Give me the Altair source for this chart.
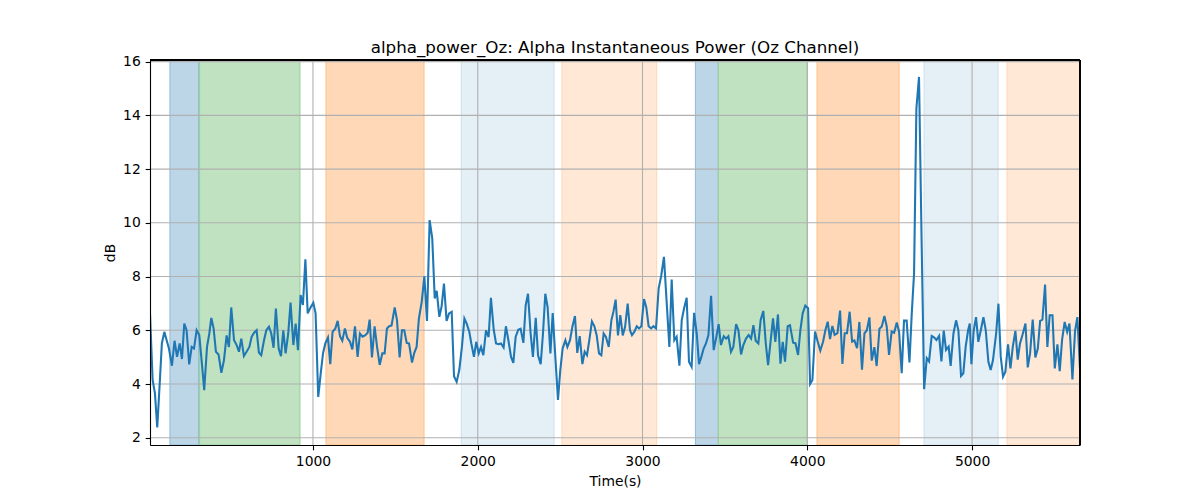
import altair as alt
import pandas as pd

# ---- line data (time in s, alpha power in dB) ----
times = [
    11, 27, 41, 55, 71, 83, 98, 112, 126, 144, 160, 175, 191, 205, 219, 233, 249, 264, 278, 294,
    310, 326, 340, 357, 371, 383, 397, 411, 427, 444, 460, 476, 490, 504, 521, 537, 551, 565, 581, 597,
    614, 628, 644, 658, 672, 686, 703, 717, 733, 747, 761, 775, 792, 806, 820, 834, 850, 864, 881, 895,
    909, 925, 939, 954, 968, 982,
    1002, 1016, 1032, 1047, 1061, 1075, 1091, 1105, 1119, 1136, 1150, 1164, 1178, 1194, 1208, 1225, 1239, 1255, 1271, 1285,
    1301, 1318, 1332, 1344, 1358, 1374, 1389, 1405, 1421, 1435, 1449, 1463, 1477, 1496, 1510, 1526, 1540, 1554, 1569, 1583,
    1601, 1615, 1629, 1643, 1660, 1676, 1692, 1708, 1724, 1739, 1751, 1767, 1781, 1795, 1811, 1826, 1842, 1856, 1872, 1888,
    1904, 1919, 1933, 1949,
    1961, 1977, 1991, 2006, 2020, 2034, 2050, 2066, 2080, 2097, 2111, 2127, 2141, 2157, 2171, 2186, 2202, 2216, 2230, 2246,
    2260, 2277, 2291, 2305, 2321, 2335, 2352, 2366, 2382, 2396, 2410, 2424, 2441, 2455, 2469, 2487, 2501, 2515, 2532, 2544,
    2560, 2574, 2590, 2604, 2619, 2635, 2649, 2663, 2677, 2693, 2708, 2722, 2736, 2750, 2764, 2778, 2795, 2811, 2823, 2837,
    2851, 2865, 2880, 2894, 2910, 2924,
    2936, 2950, 2965, 2979, 2993, 3009, 3023, 3037, 3052, 3066, 3082, 3098, 3114, 3130, 3147, 3163, 3177, 3193, 3207, 3224,
    3238, 3252, 3268, 3282, 3298, 3313, 3329, 3343, 3357, 3371, 3385, 3400, 3416, 3432, 3446, 3462, 3476, 3493, 3507, 3521,
    3537, 3551, 3568, 3582, 3598, 3612, 3628, 3644, 3659, 3673, 3687, 3703, 3717, 3733, 3748, 3762, 3778, 3792, 3806, 3822,
    3837, 3851, 3865, 3881, 3895,
    3914, 3928, 3944, 3958, 3972, 3988, 4005, 4017, 4031, 4047, 4063, 4079, 4096, 4110, 4124, 4138, 4152, 4166, 4183, 4199,
    4213, 4227, 4241, 4257, 4272, 4286, 4302, 4316, 4332, 4347, 4361, 4377, 4391, 4407, 4421, 4438, 4452, 4468, 4482, 4496,
    4512, 4527, 4543, 4557, 4573, 4587, 4603, 4620, 4634, 4648, 4662, 4678, 4693, 4709, 4725, 4739, 4755, 4769, 4784, 4800,
    4814, 4828, 4842, 4858,
    4870, 4887, 4903, 4917, 4933, 4947, 4961, 4976, 4986, 4996, 5010, 5024, 5038, 5053, 5069, 5083, 5099, 5113, 5127, 5146,
    5160, 5174, 5188, 5202, 5218, 5233, 5247, 5263, 5277, 5291, 5307, 5324, 5338, 5352, 5368, 5384, 5399, 5413, 5427, 5443,
    5457, 5471, 5488, 5502, 5518, 5532, 5546, 5562, 5577, 5591, 5609, 5625, 5639, 5655,
]

values = [
    6.63, 4.14, 3.65, 2.38, 4.14, 5.51, 5.94, 5.63, 5.32, 4.68, 5.61, 5.01, 5.51, 4.93, 6.25, 6.0, 4.73, 5.38, 5.32, 6.0,
    5.82, 4.76, 3.77, 5.38, 5.88, 6.46, 6.07, 5.2, 5.1, 4.42, 4.89, 5.81, 5.38, 6.85, 5.63, 5.45, 5.2, 5.69, 5.04, 5.2,
    5.38, 5.76, 5.92, 6.0, 5.17, 5.07, 5.63, 6.0, 6.13, 5.88, 5.35, 6.81, 5.32, 5.04, 6.0, 5.14, 5.88, 7.03, 5.45, 6.25,
    5.26, 7.31, 6.94, 8.64, 6.63, 6.81,
    7.02, 6.63, 3.52, 4.39, 5.14, 5.51, 5.73, 4.74, 5.94, 6.07, 6.35, 5.78, 5.61, 6.07, 5.72, 5.57, 5.29, 6.15, 5.01, 5.88,
    5.76, 5.82, 5.91, 6.40, 4.99, 6.15, 5.38, 4.71, 5.14, 5.14, 6.07, 6.15, 6.18, 6.85, 6.38, 4.99, 6.0, 6.0, 5.53, 5.51,
    4.80, 5.16, 5.38, 6.44, 7.06, 8.01, 6.35, 10.1, 9.42, 7.18, 7.47, 6.50, 6.90, 7.74, 6.35, 6.63, 6.69, 4.29, 4.08, 4.52,
    5.38, 6.44, 6.25, 5.94,
    5.51, 5.01, 5.57, 5.14, 5.38, 5.07, 6.0, 5.75, 7.21, 6.02, 5.51, 5.48, 5.51, 5.36, 6.15, 5.63, 5.01, 4.79, 5.75, 6.02,
    6.06, 5.53, 6.93, 7.36, 5.88, 5.01, 6.46, 5.07, 4.74, 5.88, 7.36, 6.86, 5.14, 6.64, 5.2, 3.41, 4.52, 5.32, 5.63, 5.38,
    5.63, 6.12, 6.53, 5.16, 5.78, 4.74, 5.2, 5.07, 5.63, 6.33, 6.15, 5.81, 5.14, 5.07, 5.88, 5.75, 5.38, 6.37, 6.68, 7.14,
    5.81, 6.56, 5.81, 6.12, 6.99, 6.0,
    5.82, 5.94, 6.15, 6.07, 6.15, 7.16, 6.85, 6.15, 6.07, 6.15, 6.07, 7.56, 8.05, 8.73, 7.0, 5.38, 7.89, 5.63, 5.76, 4.68,
    6.38, 6.81, 7.21, 4.83, 4.64, 6.65, 5.88, 4.74, 5.01, 5.32, 5.51, 5.82, 7.28, 5.26, 5.69, 6.23, 5.45, 5.78, 5.69, 5.78,
    5.2, 5.38, 6.23, 6.0, 5.1, 5.45, 5.69, 5.82, 5.69, 6.19, 5.61, 5.51, 6.38, 6.72, 5.51, 4.70, 5.63, 6.44, 5.57, 6.59,
    4.76, 5.57, 4.83, 6.15, 6.19,
    5.54, 5.52, 5.08, 6.01, 6.63, 6.92, 6.82, 4.0, 4.15, 5.95, 5.58, 5.24, 5.58, 6.01, 6.32, 5.67, 6.16, 5.83, 5.89, 6.73,
    4.75, 5.89, 5.89, 6.69, 5.58, 5.62, 5.33, 6.31, 4.53, 5.89, 5.99, 6.48, 4.87, 5.37, 4.67, 6.06, 6.14, 6.53, 6.14, 5.08,
    5.95, 5.91, 6.29, 5.95, 4.40, 6.36, 6.36, 4.80, 6.63, 8.12, 14.25, 15.43, 9.6, 3.81, 4.96, 4.84, 5.79, 5.74, 5.64, 5.79,
    4.84, 5.99, 5.27, 5.39,
    4.67, 5.88, 6.37, 6.0, 4.30, 4.40, 5.38, 6.0, 6.25, 4.74, 6.0, 6.49, 5.57, 6.0, 6.49, 6.0, 4.83, 4.52, 4.89, 5.88,
    6.99, 5.01, 4.27, 4.46, 5.48, 4.58, 5.38, 5.98, 4.91, 5.51, 5.85, 6.25, 4.62, 5.14, 6.40, 4.99, 5.32, 6.35, 6.40, 7.70,
    5.38, 6.56, 6.56, 4.58, 5.48, 4.48, 5.63, 6.31, 5.94, 6.25, 4.17, 5.98, 6.49, 4.58,
]

# ---- shaded event intervals ----
band_start = [132, 312, 1079, 1900, 2511, 3321, 3460, 4059, 4709, 5212]
band_end = [306, 921, 1674, 2463, 3086, 3460, 4000, 4557, 5158, 5655]
band_kind = ["Event 1", "Event 2", "Event 3", "Event 4", "Event 5",
             "Event 1", "Event 2", "Event 3", "Event 4", "Event 5"]

kinds = ["Event 1", "Event 2", "Event 3", "Event 4", "Event 5"]

x_ticks = [1000, 2000, 3000, 4000, 5000]
y_ticks = [2, 4, 6, 8, 10, 12, 14, 16]

X_MIN, X_MAX = times[0], times[-1]
Y_MIN, Y_MAX = 1.73, 16.06


def blend(hex_color, alpha):
    h = hex_color.lstrip("#")
    rgb = [int(h[i:i + 2], 16) for i in (0, 2, 4)]
    out = [round(255 - alpha * (255 - c)) for c in rgb]
    return "#" + "".join(f"{c:02x}" for c in out)


base_colors = ["#1f77b4", "#2ca02c", "#ff7f0e", "#1f77b4", "#ff7f0e"]
alphas = [0.3, 0.3, 0.3, 0.12, 0.17]
fill_colors = [blend(c, a) for c, a in zip(base_colors, alphas)]
edge_colors = [blend(c, 1 - (1 - a) ** 2) for c, a in zip(base_colors, alphas)]

line_df = pd.DataFrame({"t": times, "v": values})
band_df = pd.DataFrame({"start": band_start, "end": band_end, "kind": band_kind})
xgrid_df = pd.DataFrame({"x": x_ticks})
ygrid_df = pd.DataFrame({"y": y_ticks})

FONT = "DejaVu Sans"
xscale = alt.Scale(domain=[X_MIN, X_MAX], nice=False, zero=False)
yscale = alt.Scale(domain=[Y_MIN, Y_MAX], nice=False, zero=False)

axis_common = dict(
    labelFont=FONT, labelFontSize=13.9, labelColor="black",
    titleFont=FONT, titleFontSize=13.9, titleColor="black", titleFontWeight="normal",
    tickColor="black", tickSize=4.86, tickWidth=1.1,
    domain=True, domainColor="black", domainWidth=1.1,
    grid=False, labelFlush=False, labelOverlap=False, labelPadding=4.86,
    titlePadding=5.5, format="d", zindex=1,
)
x_axis = alt.Axis(values=x_ticks, title="Time(s)", **axis_common)
y_axis = alt.Axis(values=y_ticks, title="dB", **axis_common)

bands = alt.Chart(band_df).mark_rect(strokeWidth=1, clip=True).encode(
    x=alt.X("start:Q", scale=xscale, axis=x_axis),
    x2="end:Q",
    color=alt.Color("kind:N", scale=alt.Scale(domain=kinds, range=fill_colors), legend=None),
    stroke=alt.Stroke("kind:N", scale=alt.Scale(domain=kinds, range=edge_colors), legend=None),
)

xgrid = alt.Chart(xgrid_df).mark_rule(color="#b0b0b0", strokeWidth=1.1).encode(
    x=alt.X("x:Q", scale=xscale, axis=x_axis)
)
ygrid = alt.Chart(ygrid_df).mark_rule(color="#b0b0b0", strokeWidth=1.1).encode(
    y=alt.Y("y:Q", scale=yscale, axis=y_axis)
)

line = alt.Chart(line_df).mark_line(color="#1f77b4", strokeWidth=2.08, clip=True).encode(
    x=alt.X("t:Q", scale=xscale, axis=x_axis),
    y=alt.Y("v:Q", scale=yscale, axis=y_axis),
)

# top and right spines (drawn above the shaded spans)
top_spine = alt.Chart(ygrid_df).mark_rule(color="black", strokeWidth=1.1).encode(
    y=alt.YDatum(Y_MAX, scale=yscale, axis=y_axis)
)
right_spine = alt.Chart(xgrid_df).mark_rule(color="black", strokeWidth=1.1).encode(
    x=alt.XDatum(X_MAX, scale=xscale, axis=x_axis)
)

chart = alt.layer(bands, xgrid, ygrid, line, top_spine, right_spine).resolve_scale(
    color="independent", stroke="independent"
).properties(
    width=930,
    height=385,
    padding={"left": 142, "top": 52, "right": 20, "bottom": 47},
    autosize=alt.AutoSizeParams(type="none"),
    title=alt.TitleParams(
        text="alpha_power_Oz: Alpha Instantaneous Power (Oz Channel)",
        font=FONT, fontSize=16.7, fontWeight="normal", color="black",
        anchor="middle", baseline="alphabetic", offset=8, dy=23,
    ),
).configure_view(stroke="black", strokeWidth=1.1).configure(background="white")

chart.save("out.html", embed_options={"renderer": "svg", "actions": False})
